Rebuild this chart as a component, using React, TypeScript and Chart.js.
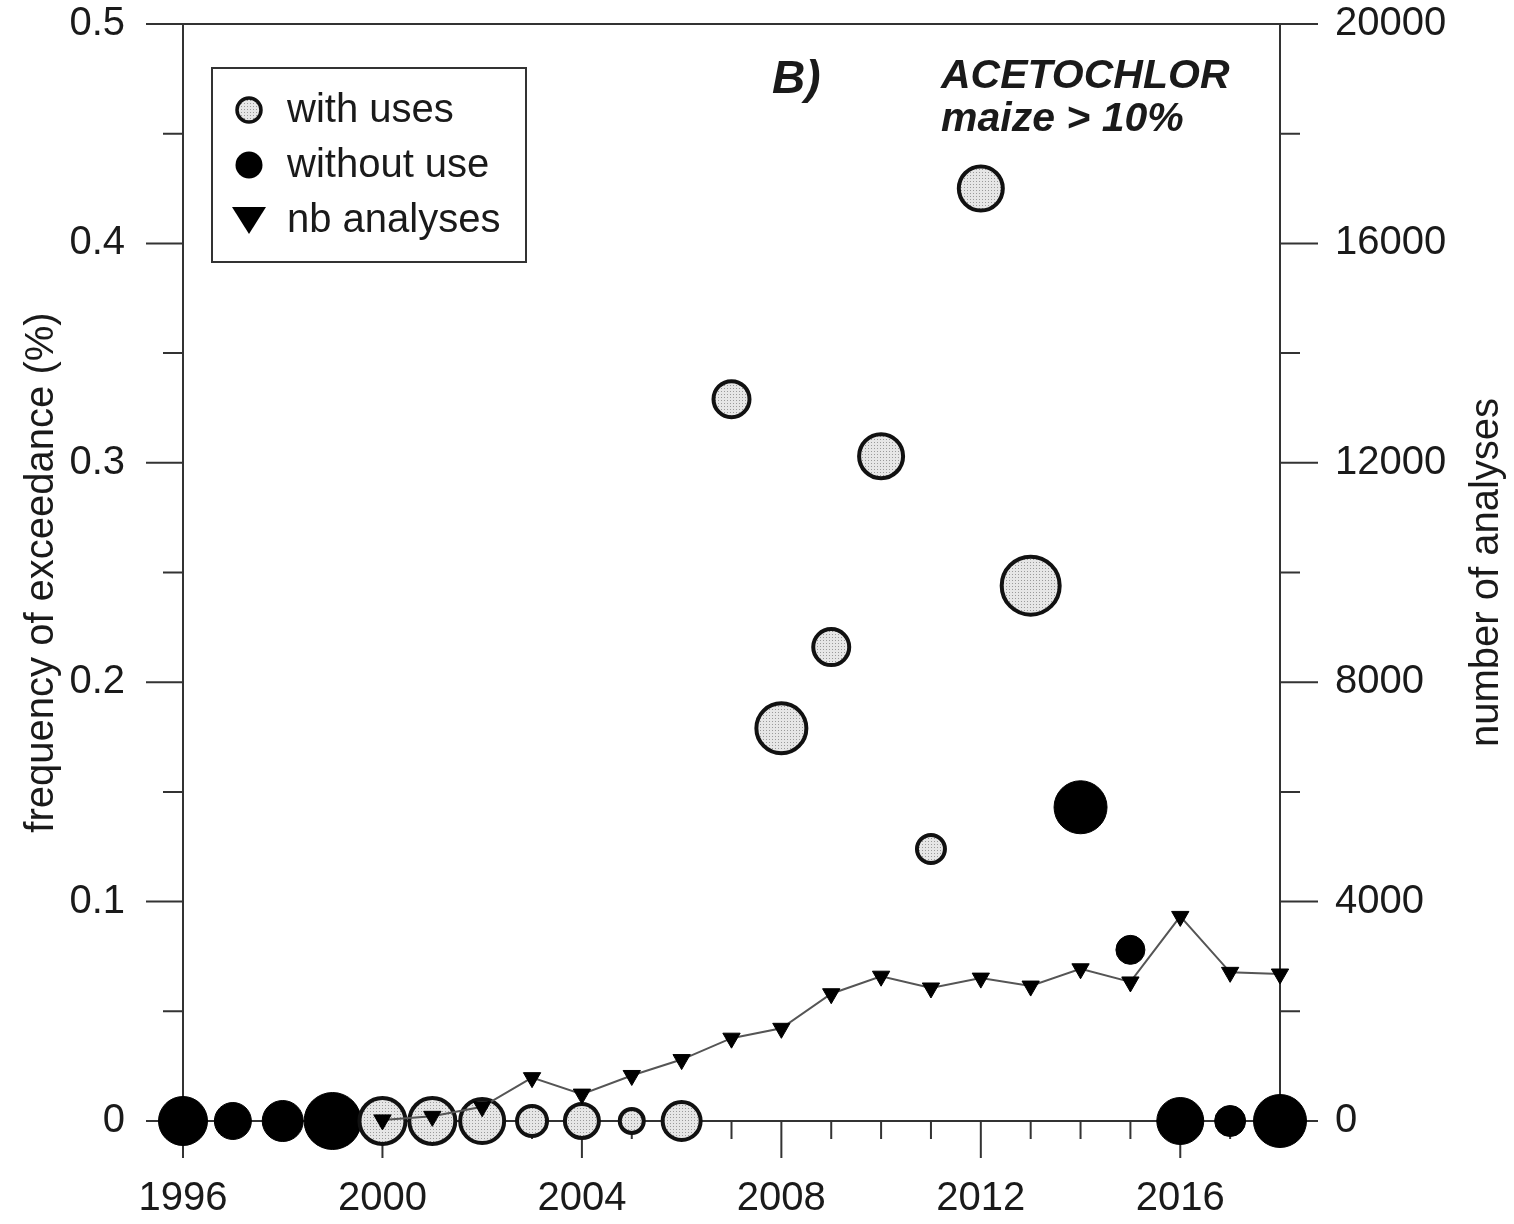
import { useEffect, useRef } from "react";
import { Chart, registerables } from "chart.js";

Chart.register(...registerables);

const FONT = '"Liberation Sans", Arial, sans-serif';
const INK = "#1a1a1a";

// axis tick labels
const xTicks = [1996, 2000, 2004, 2008, 2012, 2016];
const yTicks = [0, 0.1, 0.2, 0.3, 0.4, 0.5];
const y2Ticks = [0, 4000, 8000, 12000, 16000, 20000];

// frequency of exceedance, years with uses (gray bubbles)
const withUsesYears = [2000, 2001, 2002, 2003, 2004, 2005, 2006, 2007, 2008, 2009, 2010, 2011, 2012, 2013];
const withUsesFreq = [0, 0, 0, 0, 0, 0, 0, 0.329, 0.179, 0.216, 0.303, 0.124, 0.425, 0.244];
const withUsesSize = [25, 25, 24, 17, 19, 14, 21, 20, 27, 20, 24, 16, 24, 31];

// frequency of exceedance, years without use (black bubbles)
const withoutUseYears = [1996, 1997, 1998, 1999, 2014, 2015, 2016, 2017, 2018];
const withoutUseFreq = [0, 0, 0, 0, 0.143, 0.078, 0, 0, 0];
const withoutUseSize = [25, 19, 21, 29, 27, 15, 24, 16, 27];

// number of analyses (right axis)
const analysesYears = [2000, 2001, 2002, 2003, 2004, 2005, 2006, 2007, 2008, 2009, 2010, 2011, 2012, 2013, 2014, 2015, 2016, 2017, 2018];
const analysesCount = [20, 85, 260, 790, 490, 830, 1120, 1510, 1690, 2320, 2640, 2425, 2605, 2460, 2775, 2535, 3730, 2710, 2680];

function makeDots(): CanvasPattern | string {
  const c = document.createElement("canvas");
  c.width = 3;
  c.height = 3;
  const g = c.getContext("2d");
  if (!g) return "#dddddd";
  g.fillStyle = "#e6e6e6";
  g.fillRect(0, 0, 3, 3);
  g.fillStyle = "#9a9a9a";
  g.fillRect(1, 1, 1, 1);
  return g.createPattern(c, "repeat") || "#dddddd";
}

// frame + major/minor tick marks, placed with the chart's scales
const framePlugin = {
  id: "frame",
  beforeDatasetsDraw(chart: any) {
    const { ctx, chartArea, scales } = chart;
    const { left, right, top, bottom } = chartArea;
    ctx.save();
    ctx.strokeStyle = "#333";
    ctx.lineWidth = 2;
    ctx.strokeRect(left, top, right - left, bottom - top);
    ctx.beginPath();
    const yStep = yTicks[1] - yTicks[0];
    for (let i = 0; i <= (yTicks.length - 1) * 2; i++) {
      const y = scales.y.getPixelForValue((i * yStep) / 2);
      const len = i % 2 === 0 ? 37 : 20;
      ctx.moveTo(left - len, y);
      ctx.lineTo(left, y);
    }
    const y2Step = y2Ticks[1] - y2Ticks[0];
    for (let i = 0; i <= (y2Ticks.length - 1) * 2; i++) {
      const y = scales.y2.getPixelForValue((i * y2Step) / 2);
      const len = i % 2 === 0 ? 38 : 20;
      ctx.moveTo(right, y);
      ctx.lineTo(right + len, y);
    }
    for (let yr = scales.x.min; yr <= scales.x.max; yr++) {
      const x = scales.x.getPixelForValue(yr);
      const len = xTicks.includes(yr) ? 37 : 18;
      ctx.moveTo(x, bottom);
      ctx.lineTo(x, bottom + len);
    }
    ctx.stroke();
    ctx.restore();
  },
};

const notesPlugin = {
  id: "notes",
  afterDraw(chart: any) {
    const { ctx, chartArea } = chart;
    const dots = chart.$dots;
    ctx.save();
    ctx.fillStyle = INK;

    // right axis title, reading upward
    ctx.save();
    ctx.translate(1487, (chartArea.top + chartArea.bottom) / 2);
    ctx.rotate(-Math.PI / 2);
    ctx.font = `40px ${FONT}`;
    ctx.textAlign = "center";
    ctx.textBaseline = "middle";
    ctx.fillText("number of analyses", 0, 0);
    ctx.restore();

    // panel label and substance
    ctx.textAlign = "left";
    ctx.textBaseline = "alphabetic";
    ctx.font = `italic bold 46px ${FONT}`;
    ctx.fillText("B)", 772, 93);
    ctx.font = `italic bold 41px ${FONT}`;
    ctx.fillText("ACETOCHLOR", 941, 88);
    ctx.fillText("maize > 10%", 941, 131);

    // legend box
    ctx.strokeStyle = "#333";
    ctx.lineWidth = 2;
    ctx.strokeRect(212, 68, 314, 194);

    ctx.beginPath();
    ctx.arc(249, 110, 12, 0, Math.PI * 2);
    ctx.fillStyle = dots;
    ctx.fill();
    ctx.lineWidth = 3.5;
    ctx.strokeStyle = "#111";
    ctx.stroke();

    ctx.beginPath();
    ctx.arc(249, 165, 13.5, 0, Math.PI * 2);
    ctx.fillStyle = "#000";
    ctx.fill();

    ctx.beginPath();
    ctx.moveTo(232, 207);
    ctx.lineTo(266, 207);
    ctx.lineTo(249, 234);
    ctx.closePath();
    ctx.fill();

    ctx.fillStyle = INK;
    ctx.font = `40px ${FONT}`;
    ctx.fillText("with uses", 287, 122);
    ctx.fillText("without use", 287, 177);
    ctx.fillText("nb analyses", 287, 232);
    ctx.restore();
  },
};

export default function App() {
  const canvasRef = useRef<HTMLCanvasElement>(null);
  const chartRef = useRef<Chart | null>(null);

  useEffect(() => {
    if (!canvasRef.current) return;
    if (chartRef.current) chartRef.current.destroy();
    const ctx = canvasRef.current.getContext("2d");
    if (!ctx) return;

    const dots = makeDots();

    chartRef.current = new Chart(ctx, {
      type: "bubble",
      data: {
        datasets: [
          {
            type: "line",
            label: "nb analyses",
            data: analysesYears.map((x, i) => ({ x, y: analysesCount[i] })),
            yAxisID: "y2",
            borderColor: "#555",
            borderWidth: 2,
            pointStyle: "triangle",
            pointRotation: 180,
            pointRadius: 10,
            pointBackgroundColor: "#000",
            pointBorderColor: "#000",
            pointBorderWidth: 1,
            tension: 0,
            clip: false,
            order: 0,
          } as any,
          {
            type: "bubble",
            label: "with uses",
            data: withUsesYears.map((x, i) => ({ x, y: withUsesFreq[i], r: withUsesSize[i] - 2 })),
            yAxisID: "y",
            backgroundColor: dots as any,
            borderColor: "#111",
            borderWidth: 4,
            clip: false,
            order: 1,
          } as any,
          {
            type: "bubble",
            label: "without use",
            data: withoutUseYears.map((x, i) => ({ x, y: withoutUseFreq[i], r: withoutUseSize[i] - 0.5 })),
            yAxisID: "y",
            backgroundColor: "#000",
            borderColor: "#000",
            borderWidth: 1,
            clip: false,
            order: 2,
          } as any,
        ],
      },
      options: {
        responsive: false,
        animation: false,
        events: [],
        layout: { autoPadding: false, padding: { top: 24, left: 0, right: 0, bottom: 0 } },
        plugins: {
          legend: { display: false },
          tooltip: { enabled: false },
        },
        scales: {
          x: {
            type: "linear",
            min: 1996,
            max: 2018,
            grid: { display: false, drawTicks: false },
            border: { display: false },
            afterBuildTicks: (scale: any) => {
              scale.ticks = xTicks.map((value) => ({ value }));
            },
            afterFit: (scale: any) => {
              scale.height = 103;
              scale.paddingLeft = 0;
              scale.paddingRight = 0;
            },
            ticks: {
              padding: 54,
              maxRotation: 0,
              autoSkip: false,
              color: INK,
              font: { family: FONT, size: 40 },
              callback: (v: any) => String(v),
            },
          },
          y: {
            type: "linear",
            position: "left",
            min: 0,
            max: 0.5,
            grid: { display: false, drawTicks: false },
            border: { display: false },
            afterBuildTicks: (scale: any) => {
              scale.ticks = yTicks.map((value) => ({ value }));
            },
            afterFit: (scale: any) => {
              scale.width = 183;
              scale.paddingTop = 0;
              scale.paddingBottom = 0;
            },
            ticks: {
              padding: 58,
              color: INK,
              font: { family: FONT, size: 40 },
              callback: (v: any) => (Number(v) === 0 ? "0" : Number(v).toFixed(1)),
            },
            title: {
              display: true,
              text: "frequency of exceedance (%)",
              color: INK,
              font: { family: FONT, size: 40 },
              padding: { top: 18, bottom: 0 },
            },
          },
          y2: {
            type: "linear",
            position: "right",
            min: 0,
            max: 20000,
            grid: { display: false, drawTicks: false },
            border: { display: false },
            afterBuildTicks: (scale: any) => {
              scale.ticks = y2Ticks.map((value) => ({ value }));
            },
            afterFit: (scale: any) => {
              scale.width = 234;
              scale.paddingTop = 0;
              scale.paddingBottom = 0;
            },
            ticks: {
              padding: 55,
              color: INK,
              font: { family: FONT, size: 40 },
              callback: (v: any) => String(v),
            },
          },
        },
      },
      plugins: [
        framePlugin,
        {
          id: "dotsRef",
          beforeDraw(chart: any) {
            chart.$dots = dots;
          },
        },
        notesPlugin,
      ],
    } as any);

    return () => {
      if (chartRef.current) {
        chartRef.current.destroy();
        chartRef.current = null;
      }
    };
  }, []);

  return (
    <div style={{ position: "absolute", left: 0, top: 0, width: 1514, height: 1224, background: "#fff" }}>
      <canvas ref={canvasRef} width={1514} height={1224} style={{ display: "block" }}></canvas>
    </div>
  );
}
